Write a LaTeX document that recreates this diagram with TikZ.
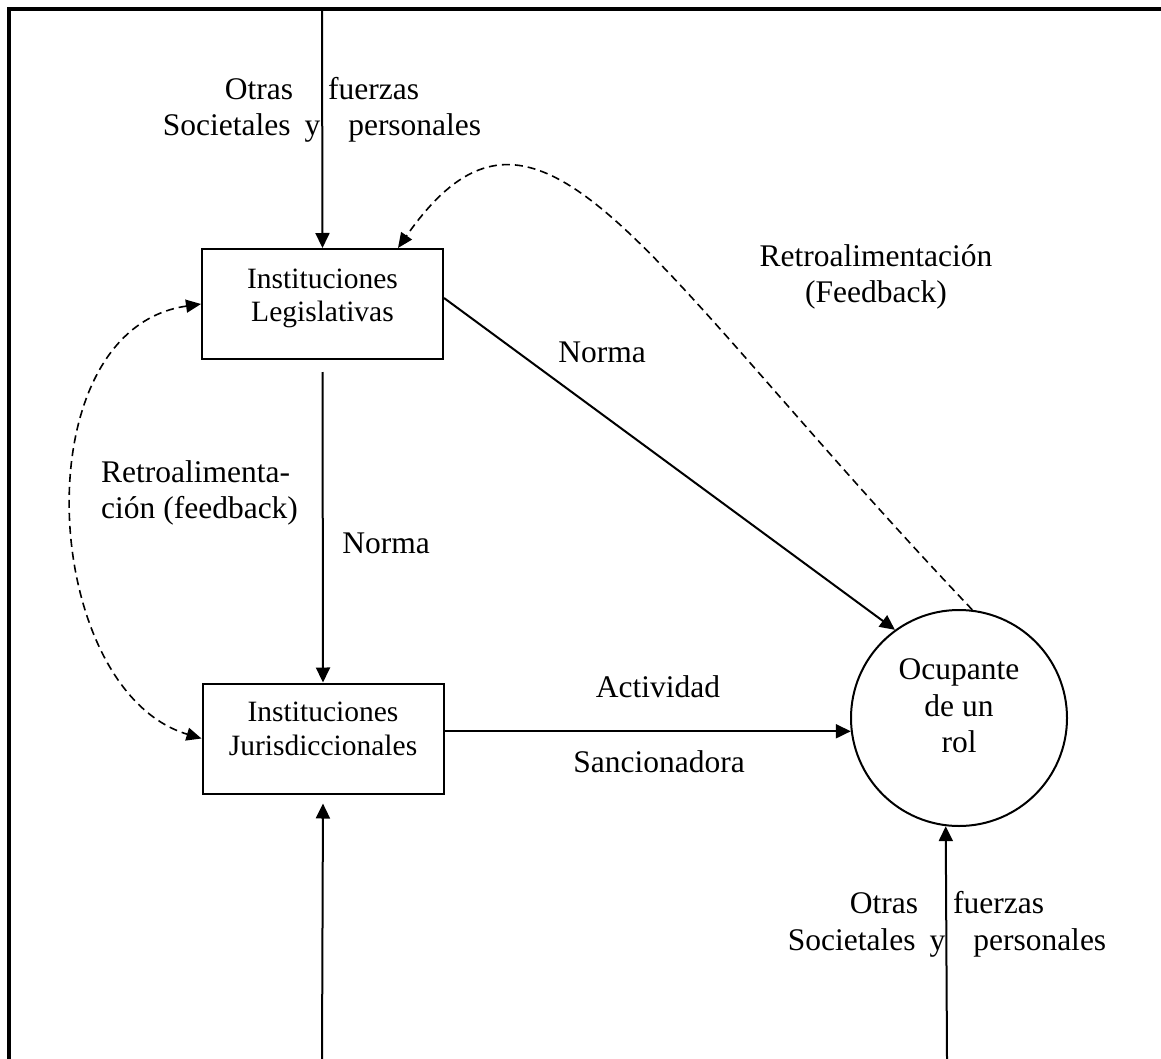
\documentclass[tikz,border=0pt]{standalone}
\usepackage{fontspec}
\setmainfont{Liberation Serif}
\usetikzlibrary{arrows.meta,calc}
\begin{document}
\begin{tikzpicture}[x=1pt,y=-1pt,
  lbl/.style={inner sep=0pt,font=\fontsize{31.5}{36.5}\selectfont},
  boxnode/.style={draw,line width=2pt,inner sep=0pt,minimum width=241pt,minimum height=110pt,align=center,font=\fontsize{29.5}{33.5}\selectfont},
  rolenode/.style={draw,circle,line width=2pt,inner sep=0pt,minimum size=216pt,align=center,font=\fontsize{31.5}{36.5}\selectfont},
  conn/.style={line width=2pt,-{Triangle[length=15pt,width=14pt]}},
  fb/.style={line width=1.6pt,dash pattern=on 8pt off 5pt}
]
\useasboundingbox (0,0) rectangle (1161,1059);
% frame
\draw[line width=3.5pt] (9,1059) -- (9,9) -- (1161,9);

% nodes
\node[boxnode] (leg) at (322.5,304) {Instituciones\\Legislativas\rule[-17.4pt]{0pt}{0pt}};
\node[boxnode] (jur) at (323,738.5) {Instituciones\\Jurisdiccionales\rule[-19.5pt]{0pt}{0pt}};
\node[rolenode] (rol) at (959,718) {Ocupante\\de un\\rol\rule[-24.2pt]{0pt}{0pt}};

\coordinate (topin) at (322,9);
\coordinate (botin) at (322,1059);
\coordinate (botR) at (947,1059);

% connectors
\draw[conn] (topin) -- (leg.north);
\draw[conn,shorten <=12pt] (leg.south) -- (jur.north);
\draw[conn,shorten >=9pt] (botin) -- (jur.south);
\draw[conn] ([yshift=6pt]leg.east) -- (rol.126);
\draw[conn] (jur.east |- rol.187) -- (rol.187);
\draw[conn] (botR) -- (rol.263.6);

% feedback
\draw[fb,-{Triangle[length=15pt,width=13pt]}] (rol.83) .. controls (640,260) and (540,45) .. ([xshift=-46pt]leg.north east);
\draw[fb,{Triangle[length=15pt,width=13pt]}-{Triangle[length=15pt,width=13pt]}] (leg.west) .. controls (20,330) and (40,690) .. (jur.west);

% labels
\node[lbl,align=center] (ftop) at (322,109.7) {Otras\hspace{35pt}fuerzas\\Societales\hspace{14pt}y\hspace{28pt}personales};
\node[lbl,align=center] (fbot) at (947,924.2) {Otras\hspace{35pt}fuerzas\\Societales\hspace{14pt}y\hspace{28pt}personales};
\node[lbl,anchor=base] (n1) at (602,362) {Norma};
\node[lbl,anchor=base] (n2) at (386,553) {Norma};
\node[lbl,anchor=base] (act) at (658,697) {Actividad};
\node[lbl,anchor=base] (san) at (659,772) {Sancionadora};
\node[lbl,align=left,anchor=west] (rl) at (101,492.7) {Retroalimenta-\\ción (feedback)};
\node[lbl,align=center] (rr) at (876,276.7) {Retroalimentación\\(Feedback)};
\end{tikzpicture}
\end{document}
